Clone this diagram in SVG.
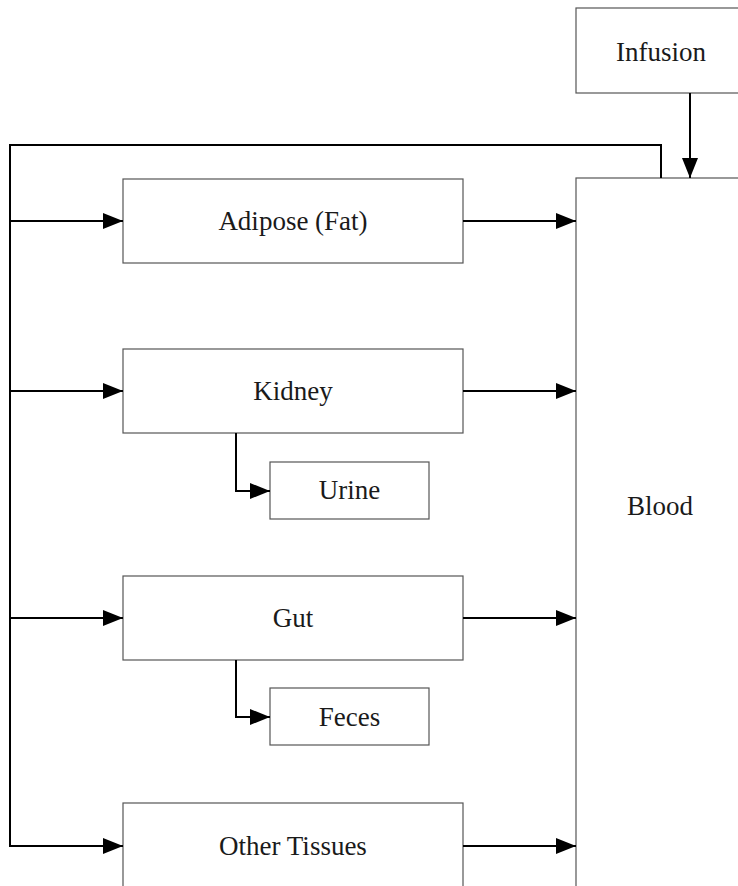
<svg xmlns="http://www.w3.org/2000/svg" width="738" height="886" viewBox="0 0 738 886">
<style>
.box{fill:#fff;stroke:#555;stroke-width:1.2}
.lbl{font-family:"Liberation Serif","Times New Roman",serif;font-size:27px;fill:#1a1a1a;text-anchor:middle}
.c{fill:none;stroke:#000;stroke-width:2}
</style>
<defs>
<marker id="ah" markerUnits="userSpaceOnUse" markerWidth="20" markerHeight="16" viewBox="0 0 20 16" refX="20" refY="8" orient="auto">
<path d="M0,0 L20,8 L0,16 Z" fill="#000"/>
</marker>
</defs>
<g id="infusion"><rect class="box" x="576" y="8" width="200" height="85"/><text class="lbl" x="661" y="61">Infusion</text></g>
<g id="blood"><rect class="box" x="576" y="178" width="200" height="750"/><text class="lbl" x="660" y="515">Blood</text></g>
<g id="adipose"><rect class="box" x="123" y="179" width="340" height="84"/><text class="lbl" x="293" y="230">Adipose (Fat)</text></g>
<g id="kidney"><rect class="box" x="123" y="349" width="340" height="84"/><text class="lbl" x="293" y="400">Kidney</text></g>
<g id="urine"><rect class="box" x="270" y="462" width="159" height="57"/><text class="lbl" x="349.500" y="499">Urine</text></g>
<g id="gut"><rect class="box" x="123" y="576" width="340" height="84"/><text class="lbl" x="293" y="627">Gut</text></g>
<g id="feces"><rect class="box" x="270" y="688" width="159" height="57"/><text class="lbl" x="349.500" y="726">Feces</text></g>
<g id="other"><rect class="box" x="123" y="803" width="340" height="100"/><text class="lbl" x="293" y="855">Other Tissues</text></g>
<g id="connectors">
<path class="c" d="M690,93 V178" marker-end="url(#ah)"/>
<path class="c" d="M661,178 V145 H10 V846"/>
<path class="c" d="M10,221 H123" marker-end="url(#ah)"/>
<path class="c" d="M10,391 H123" marker-end="url(#ah)"/>
<path class="c" d="M10,618 H123" marker-end="url(#ah)"/>
<path class="c" d="M9,846 H123" marker-end="url(#ah)"/>
<path class="c" d="M463,221 H576" marker-end="url(#ah)"/>
<path class="c" d="M463,391 H576" marker-end="url(#ah)"/>
<path class="c" d="M463,618 H576" marker-end="url(#ah)"/>
<path class="c" d="M463,846 H576" marker-end="url(#ah)"/>
<path class="c" d="M236,433 V491 H270" marker-end="url(#ah)"/>
<path class="c" d="M236,660 V717 H270" marker-end="url(#ah)"/>
</g>
</svg>
